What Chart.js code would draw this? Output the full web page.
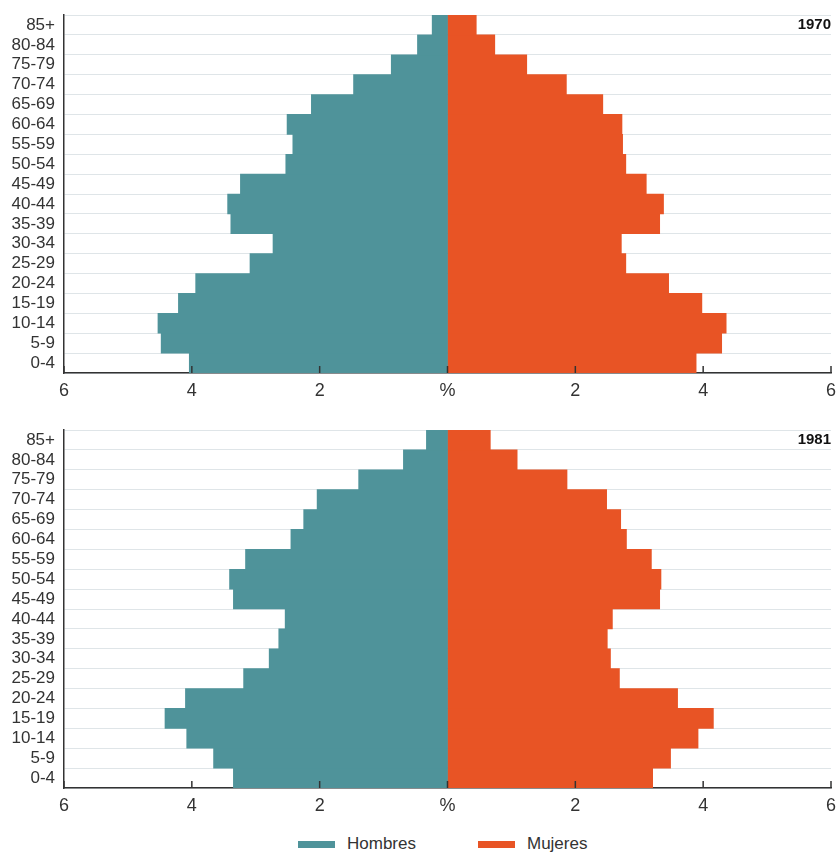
<!DOCTYPE html>
<html>
<head>
<meta charset="utf-8">
<script src="https://cdn.jsdelivr.net/npm/chart.js@4/dist/chart.umd.min.js"></script>
<style>
  body { margin: 0; background: #fff; font-family: "Liberation Sans", Arial, sans-serif; }
  .box { position: absolute; left: 0; width: 837px; height: 400px; }
  #legend { position: absolute; left: 298px; top: 834px; display: flex; align-items: center; font-size: 17px; color: #333; }
  .sw { display: inline-block; width: 37px; height: 7px; margin-right: 12px; }
  .item { display: flex; align-items: center; margin-right: 62px; }
</style>
</head>
<body>
<div class="box" style="top:0"><canvas id="c1970"></canvas></div>
<div class="box" style="top:415px"><canvas id="c1981"></canvas></div>
<div id="legend">
  <div class="item"><span class="sw" style="background:#4f939a"></span>Hombres</div>
  <div class="item"><span class="sw" style="background:#e85425"></span>Mujeres</div>
</div>
<script>
// age groups, youngest first (drawn bottom-up)
const ageGroups = ["0-4", "5-9", "10-14", "15-19", "20-24", "25-29", "30-34", "35-39", "40-44",
  "45-49", "50-54", "55-59", "60-64", "65-69", "70-74", "75-79", "80-84", "85+"];

// % of population
const men1970 = [4.04, 4.48, 4.53, 4.21, 3.94, 3.09, 2.73, 3.39, 3.44, 3.24, 2.53, 2.42, 2.51, 2.13, 1.47, 0.88, 0.47, 0.24];
const women1970 = [3.89, 4.29, 4.36, 3.98, 3.46, 2.79, 2.72, 3.32, 3.38, 3.11, 2.79, 2.74, 2.73, 2.43, 1.86, 1.24, 0.74, 0.45];
const men1981 = [3.35, 3.66, 4.08, 4.42, 4.10, 3.19, 2.79, 2.64, 2.54, 3.35, 3.41, 3.16, 2.45, 2.25, 2.04, 1.39, 0.69, 0.33];
const women1981 = [3.21, 3.49, 3.92, 4.16, 3.60, 2.69, 2.55, 2.50, 2.58, 3.32, 3.34, 3.19, 2.80, 2.71, 2.49, 1.87, 1.09, 0.67];

const xTicks = [-6, -4, -2, 0, 2, 4, 6];

const teal = "#4f939a";
const orange = "#e85425";

// small tick marks pointing up from the bottom axis + the year tag
const extras = {
  id: "extras",
  afterDraw(chart, args, opts) {
    const ctx = chart.ctx;
    const x = chart.scales.x, y = chart.scales.y;
    ctx.save();
    ctx.strokeStyle = "#333";
    ctx.lineWidth = 1.5;
    x.ticks.forEach(t => {
      const px = x.getPixelForValue(t.value);
      ctx.beginPath();
      ctx.moveTo(px, y.bottom);
      ctx.lineTo(px, y.bottom - 7);
      ctx.stroke();
    });
    ctx.fillStyle = "#111";
    ctx.font = "bold 15px 'Liberation Sans', Arial, sans-serif";
    ctx.textAlign = "right";
    ctx.textBaseline = "middle";
    ctx.fillText(opts.year, x.right, y.getPixelForValue(ageGroups.length - 1));
    ctx.restore();
  }
};

function pyramid(id, year, men, women) {
  new Chart(document.getElementById(id), {
    type: "bar",
    data: {
      labels: ageGroups,
      datasets: [
        { label: "Hombres", data: men.map(v => -v), backgroundColor: teal, borderWidth: 0 },
        { label: "Mujeres", data: women, backgroundColor: orange, borderWidth: 0 }
      ]
    },
    options: {
      indexAxis: "y",
      responsive: true,
      maintainAspectRatio: false,
      animation: false,
      layout: { padding: { top: 15, right: 0, left: 0, bottom: 0 } },
      datasets: { bar: { barPercentage: 1, categoryPercentage: 1 } },
      plugins: {
        legend: { display: false },
        tooltip: { enabled: false },
        extras: { year: year }
      },
      scales: {
        x: {
          stacked: true,
          min: -6, max: 6,
          afterBuildTicks: s => { s.ticks = xTicks.map(v => ({ value: v })); },
          grid: { display: false, drawTicks: false },
          border: { display: true, color: "#333", width: 1.5 },
          ticks: {
            padding: 7,
            color: "#333",
            font: { size: 18, family: "'Liberation Sans', Arial, sans-serif" },
            callback: v => v === 0 ? "%" : String(Math.abs(v))
          },
          afterFit: s => { s.height = 27; s.paddingLeft = 0; s.paddingRight = 6; }
        },
        y: {
          stacked: true,
          reverse: true,
          grid: { color: "#dfe5e8", lineWidth: 1, offset: true, drawTicks: false },
          border: { display: true, color: "#333", width: 1.5 },
          ticks: {
            padding: 9,
            color: "#333",
            autoSkip: false,
            font: { size: 17, family: "'Liberation Sans', Arial, sans-serif" }
          },
          afterFit: s => { s.width = 64; s.paddingTop = 0; s.paddingBottom = 0; }
        }
      }
    },
    plugins: [extras]
  });
}

pyramid("c1970", "1970", men1970, women1970);
pyramid("c1981", "1981", men1981, women1981);
</script>
</body>
</html>
